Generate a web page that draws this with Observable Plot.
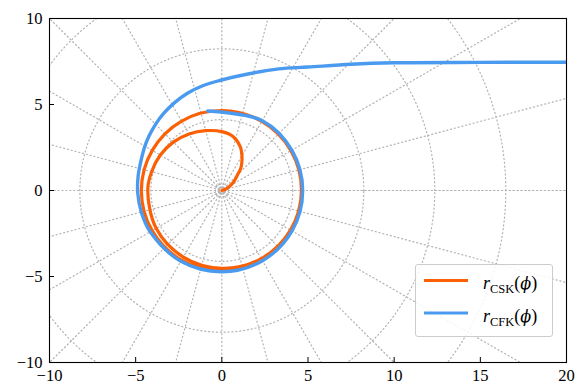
<!DOCTYPE html>
<html>
<head>
<meta charset="utf-8">
<script src="https://cdn.jsdelivr.net/npm/d3@7"></script>
<script src="https://cdn.jsdelivr.net/npm/@observablehq/plot@0.6"></script>
<style>
  html, body { margin: 0; padding: 0; background: #fff; }
  #wrap { position: relative; width: 586px; height: 385px; }
  #legend { position: absolute; left: 415px; top: 264px; }
</style>
</head>
<body>
<div id="wrap"></div>
<script>
// ---- data ----
const xTicks = [-10, -5, 0, 5, 10, 15, 20];
const yTicks = [-10, -5, 0, 5, 10];

// r_CSK(phi): orange spiral, phi in degrees
const phiCSK = [0, 20, 31, 38, 45, 50, 57, 67, 78, 90, 105, 120, 135, 150, 165, 180, 210, 240, 270, 300, 330, 360, 390, 420, 450, 480, 510, 540, 570, 600, 630, 660, 690, 720];
const rCSK   = [0, 0.27, 0.63, 0.92, 1.29, 1.72, 2.15, 2.75, 3.2, 3.42, 3.6, 3.8, 3.98, 4.12, 4.22, 4.3, 4.4, 4.47, 4.52, 4.57, 4.6, 4.62, 4.63, 4.64, 4.65, 4.66, 4.66, 4.67, 4.67, 4.68, 4.68, 4.68, 4.68, 4.68];

// r_CFK(phi): blue spiral, phi in degrees
const phiCFK = [18.75, 20.45, 26.4, 36.6, 44.4, 55.1, 65, 76.3, 90.7, 100, 109.7, 118, 127, 135, 143.7, 152, 161.6, 170, 182, 195, 210, 240, 270, 300, 330, 360, 390, 420, 460];
const rCFK   = [23.23, 21.35, 16.75, 12.45, 10.49, 8.75, 7.8, 7.0, 6.41, 6.2, 5.99, 5.8, 5.61, 5.44, 5.27, 5.12, 4.98, 4.93, 4.88, 4.84, 4.8, 4.75, 4.72, 4.71, 4.7, 4.69, 4.69, 4.69, 4.69];

const seriesNames  = ["CSK", "CFK"];
const seriesColors = ["#fc6005", "#4a9bef"];

// polar grid
const gridRadii  = [0.16, 0.37, 4.12, 8.24, 12.36, 16.48];
const gridAngles = [0, 15, 30, 45, 60, 75, 90, 105, 120, 135, 150, 165, 180, 195, 210, 225, 240, 255, 270, 285, 300, 315, 330, 345, 360];

// ---- build tables ----
const rad = Math.PI / 180;
const toXY = (phis, rs, name) => phis.map((p, i) => ({x: rs[i] * Math.cos(p * rad), y: rs[i] * Math.sin(p * rad), s: name}));
const csk = toXY(phiCSK, rCSK, "CSK");
const cfk = toXY(phiCFK, rCFK, "CFK");

const circles = [];
gridRadii.forEach((r, k) => {
  for (let a = 0; a <= 360; a += 2) circles.push({x: r * Math.cos(a * rad), y: r * Math.sin(a * rad), g: "c" + k});
});
const spokes = [];
gridAngles.forEach((a, k) => {
  [gridRadii[0], 30].forEach(r => spokes.push({x: r * Math.cos(a * rad), y: r * Math.sin(a * rad), g: "s" + k}));
});

const grey = "#b2b2b2";
const dash = "1.1,2.8";
const serif = "'Liberation Serif', 'DejaVu Serif', serif";

const chart = Plot.plot({
  width: 586,
  height: 385,
  marginLeft: 49,
  marginRight: 20,
  marginTop: 18,
  marginBottom: 23,
  style: {fontFamily: serif, fontSize: "16px", color: "black", background: "white"},
  x: {domain: [-10, 20], label: null},
  y: {domain: [-10, 10], label: null},
  marks: [
    Plot.line(circles, {x: "x", y: "y", z: "g", stroke: grey, strokeWidth: 1.2, strokeDasharray: dash, clip: true}),
    Plot.line(spokes, {x: "x", y: "y", z: "g", stroke: grey, strokeWidth: 1.2, strokeDasharray: dash, clip: true}),
    Plot.line(csk, {x: "x", y: "y", stroke: seriesColors[0], strokeWidth: 3.2, curve: "catmull-rom", clip: true}),
    Plot.line(cfk, {x: "x", y: "y", stroke: seriesColors[1], strokeWidth: 3.4, curve: "catmull-rom", clip: true}),
    Plot.frame({stroke: "black", strokeWidth: 1.1}),
    Plot.axisX(xTicks, {anchor: "bottom", label: null, tickSize: -5, tickPadding: 12, stroke: "black", fill: "black", fontFamily: serif, fontSize: 16.5}),
    Plot.axisY(yTicks, {anchor: "left", label: null, tickSize: -5, tickPadding: 12, stroke: "black", fill: "black", fontFamily: serif, fontSize: 16.5})
  ]
});
document.getElementById("wrap").appendChild(chart);

// ---- legend ----
const ns = "http://www.w3.org/2000/svg";
const leg = document.createElementNS(ns, "svg");
leg.setAttribute("id", "legend");
leg.setAttribute("width", 138);
leg.setAttribute("height", 73);
leg.innerHTML = `<rect x="0.5" y="0.5" width="137" height="72" rx="2.5" fill="white" fill-opacity="0.85" stroke="#cccccc" stroke-width="1"/>`;
seriesNames.forEach((name, i) => {
  const yy = 16.5 + i * 32.5;
  leg.innerHTML += `<line x1="9" x2="53" y1="${yy}" y2="${yy}" stroke="${seriesColors[i]}" stroke-width="3.2"/>`;
  leg.innerHTML += `<text x="68" y="${yy + 8.5}" font-family="${serif.replace(/'/g, "")}" font-size="18" fill="black"><tspan font-style="italic">r</tspan><tspan font-size="12.5" dy="4">${name}</tspan><tspan dy="-4">(</tspan><tspan font-style="italic" font-family="DejaVu Serif, serif" font-size="16">ϕ</tspan><tspan>)</tspan></text>`;
});
document.getElementById("wrap").appendChild(leg);
</script>
</body>
</html>
